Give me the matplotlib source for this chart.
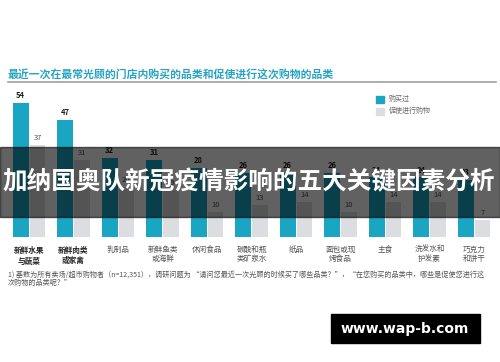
import numpy as np
import matplotlib
matplotlib.use("Agg")
import matplotlib.pyplot as plt
from matplotlib.patches import Rectangle

plt.rcParams['font.family'] = ['Noto Sans CJK SC', 'DejaVu Sans']

# data
categories = ["新鲜水果\n与蔬菜", "新鲜肉类\n或家禽", "乳制品", "新鲜鱼类\n或海鲜", "休闲食品",
              "碳酸和瓶\n类矿泉水", "纸品", "面包或现\n烤食品", "主食", "洗发水和\n护发素", "巧克力\n和饼干"]
bought = [54, 47, 32, 31, 28, 26, 26, 26, 24, 24, 23]
promoted = [37, 31, 20, 19, 10, 13, 14, 10, 14, 14, 7]
series_names = ["购买过", "促使进行购物"]

teal = "#1aa6c3"
light = "#dcdde0"

W, H = 500, 362
fig = plt.figure(figsize=(W / 100, H / 100), dpi=100)

# axes placed in pixel terms
left, right, base, top = 6.75, 496.25, 237, 88.2
ax = fig.add_axes([left / W, (H - base) / H, (right - left) / W, (base - top) / H])
x = np.arange(len(categories))
ax.bar(x - 0.19, bought, width=0.36, color=teal)
ax.bar(x + 0.19, promoted, width=0.34, color=light)
ax.set_xlim(-0.5, len(categories) - 0.5)
ax.set_ylim(0, 60)
ax.axis("off")

for i in range(len(categories)):
    ax.text(x[i] - 0.19, bought[i] + 1.2, str(bought[i]), ha="center", va="bottom",
            fontsize=5.5, fontweight="bold", color="#222222")
    ax.text(x[i] + 0.19, promoted[i] + 1.2, str(promoted[i]), ha="center", va="bottom",
            fontsize=5.5, color="#555555")
    bold = i < 2
    ax.text(x[i], -3.5, categories[i], ha="center", va="top", fontsize=5.5,
            fontweight="bold" if bold else "normal",
            color="#222222" if bold else "#555555", linespacing=1.25)

# title and rule
fig.text(8 / W, 1 - 74 / H, "最近一次在最常光顾的门店内购买的品类和促使进行这次购物的品类",
         fontsize=7.8, fontweight="bold", color="#26a3c2", va="center", ha="left")
fig.add_artist(plt.Line2D([8 / W, 496 / W], [1 - 82 / H, 1 - 82 / H], color="#a0a0a0", lw=1.2))

# legend
for k, (name, c) in enumerate(zip(series_names, [teal, light])):
    yy = 99 + 12 * k
    fig.patches.append(Rectangle((376 / W, 1 - (yy + 3.5) / H), 8 / W, 7 / H,
                                 transform=fig.transFigure, color=c))
    fig.text(389 / W, 1 - yy / H, name, fontsize=5, color="#666666", va="center", ha="left")

# footnote
fig.text(8 / W, 1 - 271 / H,
         "1) 基数为所有卖场/超市购物者（n=12,351），调研问题为 “请问您最近一次光顾的时候买了哪些品类？”，"
         "“在您购买的品类中，哪些是促使您进行这\n次购物的品类呢？”",
         fontsize=5.1, color="#555555", va="top", ha="left", linespacing=1.0)

# dark banner overlay
fig.patches.append(Rectangle((0, 1 - 217 / H), 1, 70 / H, transform=fig.transFigure,
                             color="black", alpha=0.62, zorder=10))
fig.text(0.497, 1 - 182 / H, "加纳国奥队新冠疫情影响的五大关键因素分析", fontsize=17.7,
         fontweight="bold", color="white", ha="center", va="center", zorder=11)

# watermark
fig.patches.append(Rectangle((331 / W, 1 - 343 / H), 149 / W, 29 / H, transform=fig.transFigure,
                             color="black", zorder=10))
fig.text(405 / W, 1 - 329 / H, "www.wap-b.com", fontsize=10, fontweight="bold",
         color="white", ha="center", va="center", zorder=11, family="DejaVu Sans")

fig.savefig("out.png", dpi=100)
